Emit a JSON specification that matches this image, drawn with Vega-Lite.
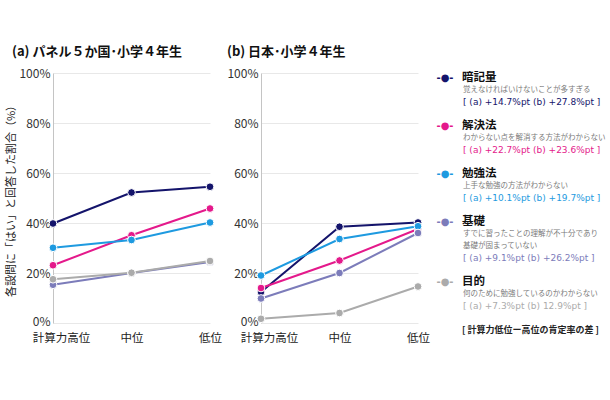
{
  "$schema": "https://vega.github.io/schema/vega-lite/v6.json",
  "background": "white",
  "padding": {"left": 5, "top": 46, "right": 0, "bottom": 0},
  "config": {
    "font": "Noto Sans CJK JP",
    "view": {"stroke": null}
  },
  "datasets": {
    "lines": [
      {"panel": "a", "item": "暗記量", "level": "計算力高位", "value": 39.8},
      {"panel": "a", "item": "暗記量", "level": "中位", "value": 52.2},
      {"panel": "a", "item": "暗記量", "level": "低位", "value": 54.5},
      {"panel": "a", "item": "解決法", "level": "計算力高位", "value": 23.1},
      {"panel": "a", "item": "解決法", "level": "中位", "value": 35.1},
      {"panel": "a", "item": "解決法", "level": "低位", "value": 45.8},
      {"panel": "a", "item": "勉強法", "level": "計算力高位", "value": 30.1},
      {"panel": "a", "item": "勉強法", "level": "中位", "value": 33.2},
      {"panel": "a", "item": "勉強法", "level": "低位", "value": 40.2},
      {"panel": "a", "item": "基礎", "level": "計算力高位", "value": 15.3},
      {"panel": "a", "item": "基礎", "level": "中位", "value": 20.0},
      {"panel": "a", "item": "基礎", "level": "低位", "value": 24.4},
      {"panel": "a", "item": "目的", "level": "計算力高位", "value": 17.5},
      {"panel": "a", "item": "目的", "level": "中位", "value": 20.1},
      {"panel": "a", "item": "目的", "level": "低位", "value": 24.8},
      {"panel": "b", "item": "暗記量", "level": "計算力高位", "value": 12.4},
      {"panel": "b", "item": "暗記量", "level": "中位", "value": 38.5},
      {"panel": "b", "item": "暗記量", "level": "低位", "value": 40.2},
      {"panel": "b", "item": "解決法", "level": "計算力高位", "value": 14.0},
      {"panel": "b", "item": "解決法", "level": "中位", "value": 25.0},
      {"panel": "b", "item": "解決法", "level": "低位", "value": 37.6},
      {"panel": "b", "item": "勉強法", "level": "計算力高位", "value": 19.0},
      {"panel": "b", "item": "勉強法", "level": "中位", "value": 33.6},
      {"panel": "b", "item": "勉強法", "level": "低位", "value": 38.7},
      {"panel": "b", "item": "基礎", "level": "計算力高位", "value": 9.8},
      {"panel": "b", "item": "基礎", "level": "中位", "value": 20.0},
      {"panel": "b", "item": "基礎", "level": "低位", "value": 36.0},
      {"panel": "b", "item": "目的", "level": "計算力高位", "value": 1.7},
      {"panel": "b", "item": "目的", "level": "中位", "value": 4.0},
      {"panel": "b", "item": "目的", "level": "低位", "value": 14.6}
    ],
    "legend": [
      {"item": "暗記量", "kind": "head", "line": 0, "text": "暗記量"},
      {"item": "暗記量", "kind": "desc", "line": 1, "text": "覚えなければいけないことが多すぎる"},
      {"item": "暗記量", "kind": "stat", "line": 2, "text": "[ (a) +14.7%pt  (b) +27.8%pt ]"},
      {"item": "解決法", "kind": "head", "line": 4, "text": "解決法"},
      {"item": "解決法", "kind": "desc", "line": 5, "text": "わからない点を解消する方法がわからない"},
      {"item": "解決法", "kind": "stat", "line": 6, "text": "[ (a) +22.7%pt  (b) +23.6%pt ]"},
      {"item": "勉強法", "kind": "head", "line": 8, "text": "勉強法"},
      {"item": "勉強法", "kind": "desc", "line": 9, "text": "上手な勉強の方法がわからない"},
      {"item": "勉強法", "kind": "stat", "line": 10, "text": "[ (a) +10.1%pt  (b) +19.7%pt ]"},
      {"item": "基礎", "kind": "head", "line": 12, "text": "基礎"},
      {"item": "基礎", "kind": "desc", "line": 13, "text": "すでに習ったことの理解が不十分であり"},
      {"item": "基礎", "kind": "desc", "line": 14, "text": "基礎が固まっていない"},
      {"item": "基礎", "kind": "stat", "line": 15, "text": "[ (a) +9.1%pt  (b) +26.2%pt ]"},
      {"item": "目的", "kind": "head", "line": 17, "text": "目的"},
      {"item": "目的", "kind": "desc", "line": 18, "text": "何のために勉強しているのかわからない"},
      {"item": "目的", "kind": "stat", "line": 19, "text": "[ (a) +7.3%pt  (b) 12.9%pt ]"},
      {"item": "note", "kind": "note", "line": 21, "text": "[ 計算力低位ー高位の肯定率の差 ]"}
    ]
  },
  "bounds": "flush",
  "spacing": 51,
  "hconcat": [
    {
      "width": 157,
      "height": 250,
      "title": {"text": "(a) パネル５か国･小学４年生", "anchor": "start", "frame": "bounds", "dx": 6, "fontSize": 13, "fontWeight": "bold", "color": "#111", "offset": 8},
      "data": {"name": "lines"},
      "transform": [{"filter": "datum.panel === 'a'"}],
      "encoding": {
        "x": {"field": "level", "type": "ordinal", "sort": ["計算力高位", "中位", "低位"], "scale": {"type": "point", "padding": 0},
          "axis": {"title": null, "labelAngle": 0, "domain": false, "ticks": false, "grid": false, "labelFontSize": 11.5, "labelColor": "#222", "labelPadding": 9,
            "labelOffset": {"condition": {"test": "datum.value === '計算力高位'", "value": 8}, "value": 0}}},
        "y": {"field": "value", "type": "quantitative", "scale": {"domain": [0, 100]},
          "axis": {"title": "各設問に「はい」と回答した割合（%）", "titleFontSize": 11, "titleFontWeight": "normal", "titleColor": "#222", "titlePadding": 2,
            "values": [0, 20, 40, 60, 80, 100], "labelExpr": "datum.value + '%'", "labelFontSize": 12, "labelColor": "#333", "labelPadding": 3,
            "labelOffset": {"condition": {"test": "datum.value === 0", "value": -2}, "value": 0},
            "ticks": false, "domainColor": "#c4c4c4", "gridColor": "#e8e8e8"}},
        "color": {"field": "item", "type": "nominal", "legend": null,
          "scale": {"domain": ["暗記量", "解決法", "勉強法", "基礎", "目的", "note"], "range": ["#14146b", "#e4198b", "#1e9ae0", "#7c7cba", "#ababab", "#222222"]}}
      },
      "layer": [
        {"mark": {"type": "line", "strokeWidth": 2}},
        {"mark": {"type": "point", "filled": true, "size": 60, "opacity": 1, "stroke": "white", "strokeWidth": 1}}
      ]
    },
    {
      "width": 157,
      "height": 250,
      "title": {"text": "(b) 日本･小学４年生", "anchor": "start", "frame": "bounds", "dx": 0, "fontSize": 13, "fontWeight": "bold", "color": "#111", "offset": 8},
      "data": {"name": "lines"},
      "transform": [{"filter": "datum.panel === 'b'"}],
      "encoding": {
        "x": {"field": "level", "type": "ordinal", "sort": ["計算力高位", "中位", "低位"], "scale": {"type": "point", "padding": 0},
          "axis": {"title": null, "labelAngle": 0, "domain": false, "ticks": false, "grid": false, "labelFontSize": 11.5, "labelColor": "#222", "labelPadding": 9,
            "labelOffset": {"condition": {"test": "datum.value === '計算力高位'", "value": 8}, "value": 0}}},
        "y": {"field": "value", "type": "quantitative", "scale": {"domain": [0, 100]},
          "axis": {"title": null,
            "values": [0, 20, 40, 60, 80, 100], "labelExpr": "datum.value + '%'", "labelFontSize": 12, "labelColor": "#333", "labelPadding": 3,
            "labelOffset": {"condition": {"test": "datum.value === 0", "value": -2}, "value": 0},
            "ticks": false, "domainColor": "#c4c4c4", "gridColor": "#e8e8e8"}},
        "color": {"field": "item", "type": "nominal", "legend": null,
          "scale": {"domain": ["暗記量", "解決法", "勉強法", "基礎", "目的", "note"], "range": ["#14146b", "#e4198b", "#1e9ae0", "#7c7cba", "#ababab", "#222222"]}}
      },
      "layer": [
        {"mark": {"type": "line", "strokeWidth": 2}},
        {"mark": {"type": "point", "filled": true, "size": 60, "opacity": 1, "stroke": "white", "strokeWidth": 1}}
      ]
    },
    {
      "width": 2,
      "height": 257,
      "data": {"name": "legend"},
      "encoding": {
        "y": {"field": "line", "type": "quantitative", "scale": {"domain": [-0.4, 21], "reverse": true, "nice": false, "zero": false}, "axis": null},
        "color": {"field": "item", "type": "nominal", "legend": null,
          "scale": {"domain": ["暗記量", "解決法", "勉強法", "基礎", "目的", "note"], "range": ["#14146b", "#e4198b", "#1e9ae0", "#7c7cba", "#ababab", "#222222"]}}
      },
      "layer": [
        {"transform": [{"filter": "datum.kind === 'head'"}],
         "mark": {"type": "text", "text": "-●-", "align": "center", "baseline": "middle", "dx": -25, "font": "DejaVu Sans", "fontSize": 10, "fontWeight": "bold"}},
        {"transform": [{"filter": "datum.kind === 'head'"}],
         "mark": {"type": "text", "align": "left", "baseline": "middle", "dx": -8, "fontSize": 11.5, "fontWeight": "bold"},
         "encoding": {"text": {"field": "text"}, "color": {"value": "#111"}}},
        {"transform": [{"filter": "datum.kind === 'desc'"}],
         "mark": {"type": "text", "align": "left", "baseline": "middle", "dx": -7, "fontSize": 7.5},
         "encoding": {"text": {"field": "text"}, "color": {"value": "#7a7a7a"}}},
        {"transform": [{"filter": "datum.kind === 'stat'"}],
         "mark": {"type": "text", "align": "left", "baseline": "middle", "dx": -7, "font": "DejaVu Sans", "fontSize": 9},
         "encoding": {"text": {"field": "text"}}},
        {"transform": [{"filter": "datum.kind === 'note'"}],
         "mark": {"type": "text", "align": "left", "baseline": "middle", "dx": -8, "fontSize": 9, "fontWeight": "bold"},
         "encoding": {"text": {"field": "text"}}}
      ]
    }
  ]
}
